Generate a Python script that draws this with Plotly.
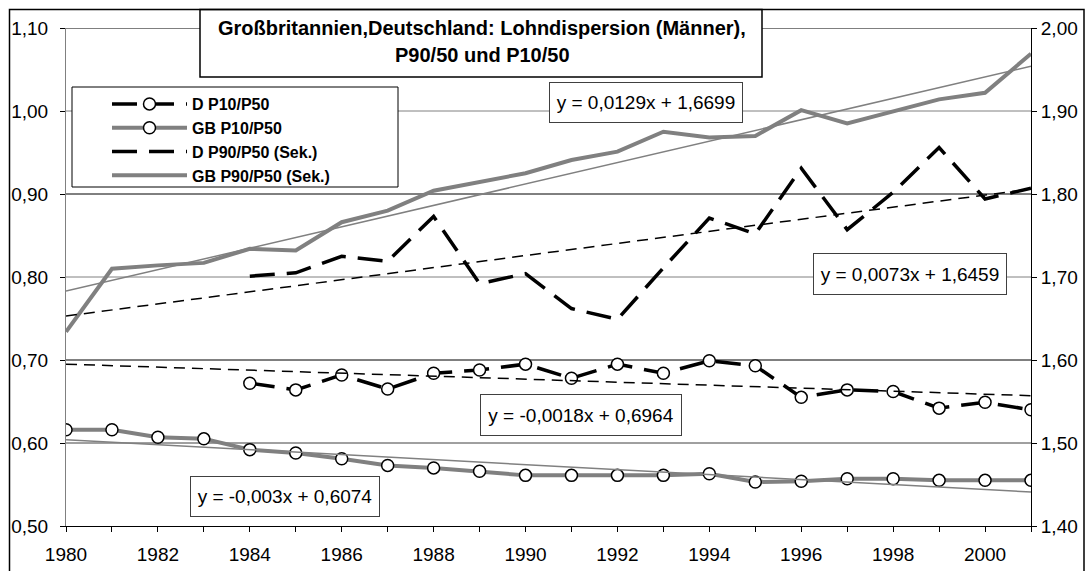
import plotly.graph_objects as go

# ---------------- data ----------------
years = list(range(1980, 2002))
gb_p10 = [0.616, 0.616, 0.607, 0.605, 0.592, 0.588, 0.581, 0.573, 0.570, 0.566, 0.561,
          0.561, 0.561, 0.561, 0.563, 0.553, 0.554, 0.557, 0.557, 0.555, 0.555, 0.555]
d_p10 = [None, None, None, None, 0.672, 0.664, 0.682, 0.665, 0.684, 0.688, 0.695,
         0.678, 0.695, 0.684, 0.699, 0.693, 0.655, 0.664, 0.662, 0.642, 0.649, 0.640]
gb_p90 = [1.634, 1.710, 1.714, 1.717, 1.734, 1.732, 1.766, 1.780, 1.804, 1.815, 1.825,
          1.841, 1.851, 1.875, 1.868, 1.870, 1.901, 1.885, 1.899, 1.914, 1.922, 1.969]
d_p90 = [None, None, None, None, 1.701, 1.705, 1.725, 1.719, 1.773, 1.692, 1.704,
         1.662, 1.649, 1.711, 1.771, 1.752, 1.831, 1.757, 1.802, 1.856, 1.794, 1.807]

trend_years = [1980, 2001]
gb_p90_trend = [1.683, 1.954]
d_p90_trend = [1.653, 1.806]
d_p10_trend = [0.695, 0.657]
gb_p10_trend = [0.604, 0.541]

series_names = ["D P10/P50", "GB P10/P50", "D P90/P50 (Sek.)", "GB P90/P50 (Sek.)"]
trend_labels = ["y = 0,0129x + 1,6699", "y = 0,0073x + 1,6459",
                "y = -0,0018x + 0,6964", "y = -0,003x + 0,6074"]
title_lines = ["Großbritannien,Deutschland: Lohndispersion (Männer),", "P90/50 und P10/50"]
left_ticks = [0.5, 0.6, 0.7, 0.8, 0.9, 1.0, 1.1]

# ---------------- layout helpers ----------------
W, H = 1089, 571
ML, MR, MT, MB = 66, 58, 28, 45
PW, PH = W - ML - MR, H - MT - MB


def px(x):
    return (x - ML) / PW


def py(y):
    return (H - MB - y) / PH


FONT = "Arial, 'Liberation Sans', sans-serif"
GRAY = "#808080"

fig = go.Figure()

marker = dict(symbol="circle", size=12, color="white", line=dict(color="black", width=1.5))

fig.add_trace(go.Scatter(x=years, y=d_p10, name=series_names[0], mode="lines+markers",
                         line=dict(color="black", width=3.5, dash="25px,12px"), marker=marker))
fig.add_trace(go.Scatter(x=years, y=gb_p10, name=series_names[1], mode="lines+markers",
                         line=dict(color=GRAY, width=4), marker=marker))
fig.add_trace(go.Scatter(x=years, y=d_p90, name=series_names[2], mode="lines", yaxis="y2",
                         line=dict(color="black", width=3.5, dash="25px,12px")))
fig.add_trace(go.Scatter(x=years, y=gb_p90, name=series_names[3], mode="lines", yaxis="y2",
                         line=dict(color=GRAY, width=4)))

# trend lines
fig.add_trace(go.Scatter(x=trend_years, y=gb_p90_trend, mode="lines", yaxis="y2", showlegend=False,
                         line=dict(color=GRAY, width=1.5), hoverinfo="skip"))
fig.add_trace(go.Scatter(x=trend_years, y=d_p90_trend, mode="lines", yaxis="y2", showlegend=False,
                         line=dict(color="black", width=1.5, dash="11px,7px"), hoverinfo="skip"))
fig.add_trace(go.Scatter(x=trend_years, y=d_p10_trend, mode="lines", showlegend=False,
                         line=dict(color="black", width=1.5, dash="11px,7px"), hoverinfo="skip"))
fig.add_trace(go.Scatter(x=trend_years, y=gb_p10_trend, mode="lines", showlegend=False,
                         line=dict(color=GRAY, width=1.5), hoverinfo="skip"))

shapes = []
grid_colors = {0.6: "#404040", 0.7: "black", 0.8: GRAY, 0.9: "black", 1.0: GRAY, 1.1: "black"}
for v in left_ticks[1:]:
    shapes.append(dict(type="line", xref="paper", yref="y", x0=0, x1=1, y0=v, y1=v,
                       line=dict(color=grid_colors[v], width=1), layer="below"))

# title box
shapes.append(dict(type="rect", xref="paper", yref="paper", x0=px(200), x1=px(762),
                   y0=py(77), y1=py(9.5), fillcolor="white", line=dict(color="black", width=1.5),
                   layer="above"))
# legend box
shapes.append(dict(type="rect", xref="paper", yref="paper", x0=px(72), x1=px(398),
                   y0=py(187), y1=py(87), fillcolor="white", line=dict(color="black", width=1),
                   layer="above"))
# outer chart border
shapes.append(dict(type="rect", xref="paper", yref="paper", x0=px(9.5), x1=px(1084),
                   y0=py(590), y1=py(9.5), line=dict(color="black", width=1.5), layer="above"))

annotations = []
annotations.append(dict(text="<b>%s</b>" % title_lines[0], xref="paper", yref="paper",
                        x=px(482), y=py(28), showarrow=False, xanchor="center", yanchor="middle",
                        font=dict(size=20, color="black", family=FONT)))
annotations.append(dict(text="<b>%s</b>" % title_lines[1], xref="paper", yref="paper",
                        x=px(482), y=py(55), showarrow=False, xanchor="center", yanchor="middle",
                        font=dict(size=20, color="black", family=FONT)))

label_boxes = [(646, 102.5, 190, 37), (910, 274, 190, 38), (581, 415, 198, 38), (285, 496.5, 186, 37)]
for txt, (cx, cy, bw, bh) in zip(trend_labels, label_boxes):
    annotations.append(dict(text=txt, xref="paper", yref="paper", x=px(cx), y=py(cy),
                            showarrow=False, xanchor="center", yanchor="middle",
                            width=bw, height=bh, borderpad=1, bgcolor="white",
                            bordercolor="#404040", borderwidth=1,
                            font=dict(size=19, color="black", family=FONT)))

fig.update_layout(
    width=W, height=H,
    margin=dict(l=ML, r=MR, t=MT, b=MB, pad=0, autoexpand=False),
    paper_bgcolor="white", plot_bgcolor="white",
    separators=", ",
    font=dict(family=FONT, size=19, color="black"),
    showlegend=True,
    legend=dict(x=px(107), y=py(87), xanchor="left", yanchor="top",
                bgcolor="rgba(0,0,0,0)", borderwidth=0, itemwidth=75,
                font=dict(size=16, family=FONT, color="black", weight="bold"),
                tracegroupgap=0, traceorder="normal"),
    xaxis=dict(range=[1980, 2001], tickmode="linear", tick0=1980, dtick=1, ticklabelstep=2,
               ticks="outside", ticklen=5, tickcolor="black", showline=True, linecolor="black",
               showgrid=False, zeroline=False, tickfont=dict(size=19), ticklabelstandoff=6,
               automargin=False),
    yaxis=dict(range=[0.5, 1.1], tickmode="linear", tick0=0.5, dtick=0.1, tickformat=".2f",
               ticks="outside", ticklen=5, tickcolor="black", showline=True, linecolor=GRAY,
               showgrid=False, zeroline=False, tickfont=dict(size=19), automargin=False,
               ticklabelstandoff=8),
    yaxis2=dict(range=[1.4, 2.0], tickmode="linear", tick0=1.4, dtick=0.1, tickformat=".2f",
                overlaying="y", side="right", ticks="outside", ticklen=5, tickcolor="black",
                showline=True, linecolor="black", showgrid=False, zeroline=False,
                tickfont=dict(size=19), automargin=False),
    shapes=shapes,
    annotations=annotations,
)

fig.write_html("out.html", config={"displayModeBar": False},
               post_script="document.body.style.margin='0';document.body.style.overflow='hidden';")
